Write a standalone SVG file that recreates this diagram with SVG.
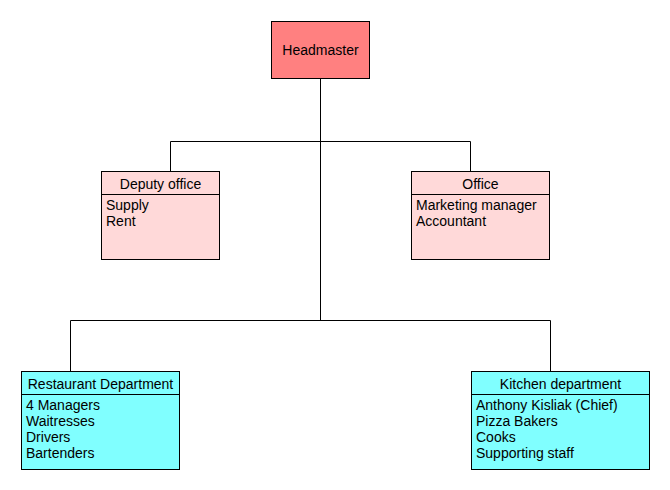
<svg xmlns="http://www.w3.org/2000/svg" width="670" height="490" viewBox="0 0 670 490">
<style>
.box{stroke:#000;stroke-width:1}
.t{font-family:"Liberation Sans",Arial,sans-serif;font-size:14px;fill:#000}
.c{text-anchor:middle}
.ln{stroke:#000;stroke-width:1;fill:none}
</style>
<rect width="670" height="490" fill="#fff"/>
<g id="connectors">
<path class="ln" d="M320.5 78V320.5M170.5 171V141.5H470.5V171M70.5 371V320.5H550.5V371"/>
</g>
<g id="headmaster">
<rect class="box" x="271.5" y="21.5" width="98" height="57" fill="#FF8080"/>
<text class="t c" x="320.5" y="55">Headmaster</text>
</g>
<g id="deputy">
<rect class="box" x="101.5" y="171.5" width="118" height="88" fill="#FFD9D9"/>
<line class="ln" x1="101.5" y1="194.5" x2="219.5" y2="194.5"/>
<text class="t c" x="160.5" y="189">Deputy office</text>
<text class="t" x="106" y="210">Supply</text>
<text class="t" x="106" y="226">Rent</text>
</g>
<g id="office">
<rect class="box" x="411.5" y="171.5" width="138" height="88" fill="#FFD9D9"/>
<line class="ln" x1="411.5" y1="194.5" x2="549.5" y2="194.5"/>
<text class="t c" x="480.5" y="189">Office</text>
<text class="t" x="416" y="210">Marketing manager</text>
<text class="t" x="416" y="226">Accountant</text>
</g>
<g id="restaurant">
<rect class="box" x="21.5" y="371.5" width="158" height="98" fill="#80FFFF"/>
<line class="ln" x1="21.5" y1="394.5" x2="179.5" y2="394.5"/>
<text class="t c" x="100.5" y="389">Restaurant Department</text>
<text class="t" x="26" y="410">4 Managers</text>
<text class="t" x="26" y="426">Waitresses</text>
<text class="t" x="26" y="442">Drivers</text>
<text class="t" x="26" y="458">Bartenders</text>
</g>
<g id="kitchen">
<rect class="box" x="471.5" y="371.5" width="178" height="98" fill="#80FFFF"/>
<line class="ln" x1="471.5" y1="394.5" x2="649.5" y2="394.5"/>
<text class="t c" x="560.5" y="389">Kitchen department</text>
<text class="t" x="476" y="410">Anthony Kisliak (Chief)</text>
<text class="t" x="476" y="426">Pizza Bakers</text>
<text class="t" x="476" y="442">Cooks</text>
<text class="t" x="476" y="458">Supporting staff</text>
</g>
</svg>
